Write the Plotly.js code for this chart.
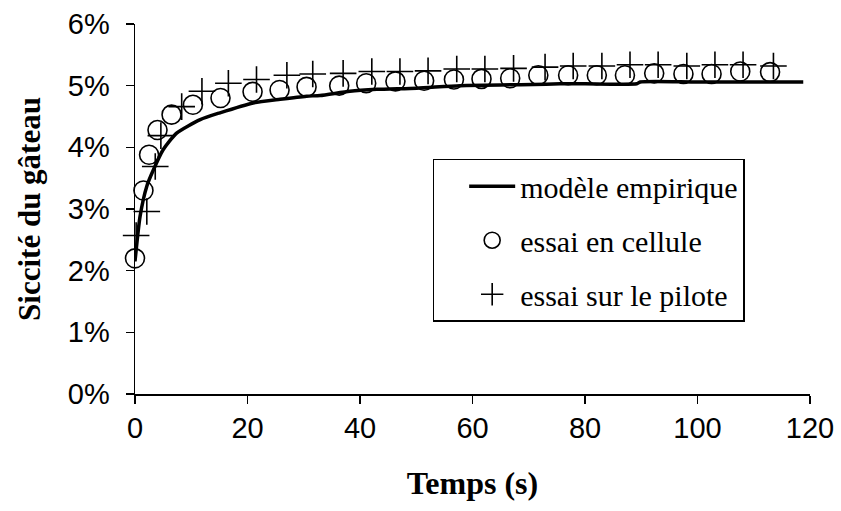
<!DOCTYPE html>
<html>
<head>
<meta charset="utf-8">
<script src="https://cdn.plot.ly/plotly-3.0.1.min.js"></script>
<style>html,body{margin:0;padding:0;background:#fff;}#chart{width:841px;height:511px;}</style>
</head>
<body>
<div id="chart"></div>
<script>
// Empirical model (Siccité %, vs time s)
const modelTime = [0, 0.9, 2.1, 3.3, 5.0, 7.4, 11.6, 15.1, 21.0, 25.8, 30.5, 32.9, 38.2, 43.0, 50.1, 57.8, 70.8, 75.6, 80.0, 89.2, 89.8, 100.0, 118.8];
const modelSiccite = [2.15, 2.88, 3.37, 3.64, 3.96, 4.23, 4.45, 4.56, 4.72, 4.78, 4.83, 4.84, 4.91, 4.94, 4.96, 5.00, 5.02, 5.03, 5.03, 5.03, 5.06, 5.06, 5.06];

// Cell test
const celluleTime = [0, 1.5, 2.5, 4.0, 6.5, 10.3, 15.2, 20.9, 25.7, 30.5, 36.3, 41.1, 46.3, 51.4, 56.7, 61.6, 66.7, 71.7, 77.0, 82.1, 87.1, 92.3, 97.5, 102.5, 107.6, 112.9];
const celluleSiccite = [2.2, 3.3, 3.88, 4.28, 4.53, 4.69, 4.80, 4.90, 4.93, 4.98, 5.0, 5.04, 5.07, 5.08, 5.10, 5.11, 5.12, 5.17, 5.17, 5.17, 5.17, 5.20, 5.19, 5.19, 5.23, 5.22];

// Pilot test
const piloteTime = [0.2, 2.1, 3.6, 4.6, 8.3, 11.9, 16.6, 21.6, 27.0, 31.6, 37.0, 42.1, 47.1, 52.1, 57.2, 62.2, 67.3, 72.9, 77.9, 83.0, 88.0, 93.0, 98.1, 103.1, 108.1, 113.5];
const piloteSiccite = [2.57, 2.96, 3.69, 4.19, 4.66, 4.91, 5.04, 5.10, 5.17, 5.19, 5.20, 5.23, 5.23, 5.24, 5.27, 5.27, 5.28, 5.30, 5.32, 5.32, 5.34, 5.34, 5.32, 5.34, 5.34, 5.32];

const seriesNames = ["modèle empirique", "essai en cellule", "essai sur le pilote"];
const xTicks = [0, 20, 40, 60, 80, 100, 120];
const yTicks = [0, 1, 2, 3, 4, 5, 6];

const serif = "Liberation Serif, DejaVu Serif, serif";
const sans = "Liberation Sans, Arial, sans-serif";

const traces = [
  {x: modelTime, y: modelSiccite, name: seriesNames[0], mode: 'lines', legendgroup: 'a',
   line: {color: '#000', width: 3.5, shape: 'spline', smoothing: 0.6}, cliponaxis: false},
  {x: celluleTime, y: celluleSiccite, name: seriesNames[1], mode: 'markers', legendgroup: 'b',
   marker: {symbol: 'circle-open', size: 19, color: '#000', line: {width: 1.6, color: '#000'}}, cliponaxis: false},
  {x: piloteTime, y: piloteSiccite, name: seriesNames[2], mode: 'markers', legendgroup: 'c',
   marker: {symbol: 'cross-thin-open', size: 19, color: '#000', line: {width: 1.6, color: '#000'}}, cliponaxis: false}
];

const layout = {
  width: 841, height: 511,
  margin: {l: 135, r: 31, t: 24, b: 117},
  paper_bgcolor: '#fff', plot_bgcolor: '#fff',
  font: {family: serif, size: 30, color: '#000'},
  showlegend: true,
  legend: {
    x: 0.441, y: 0.636, xanchor: 'left', yanchor: 'top',
    bgcolor: '#fff', bordercolor: '#000', borderwidth: 1.5,
    font: {family: serif, size: 30, color: '#000'},
    tracegroupgap: 12, traceorder: 'grouped',
    indentation: 30, itemwidth: 46
  },
  xaxis: {
    range: [0, 120], tickvals: xTicks, ticktext: xTicks.map(String),
    showgrid: false, zeroline: false, showline: true, linecolor: '#000', linewidth: 1.5,
    ticks: 'outside', ticklen: 8, tickwidth: 1.5, tickcolor: '#000',
    tickfont: {family: sans, size: 29, color: '#000'},
    title: {text: 'Temps (s)', font: {family: serif, size: 32, color: '#000', weight: 'bold'}, standoff: 28},
    automargin: false
  },
  yaxis: {
    range: [0, 6], tickvals: yTicks, ticktext: yTicks.map(v => v + '%'),
    showgrid: false, zeroline: false, showline: true, linecolor: '#000', linewidth: 1.5,
    ticks: 'outside', ticklen: 8, tickwidth: 1.5, tickcolor: '#000',
    tickfont: {family: sans, size: 29, color: '#000'},
    ticklabelstandoff: 10,
    title: {text: 'Siccité du gâteau', font: {family: serif, size: 31, color: '#000', weight: 'bold'}, standoff: 18},
    automargin: false
  }
};

Plotly.newPlot('chart', traces, layout, {staticPlot: true, displayModeBar: false}).then(function () {
  // ensure legend labels use the serif family
  document.querySelectorAll('#chart .legendtext').forEach(function (t) {
    t.style.fontFamily = "'Liberation Serif', 'DejaVu Serif', serif";
  });
});
</script>
</body>
</html>
